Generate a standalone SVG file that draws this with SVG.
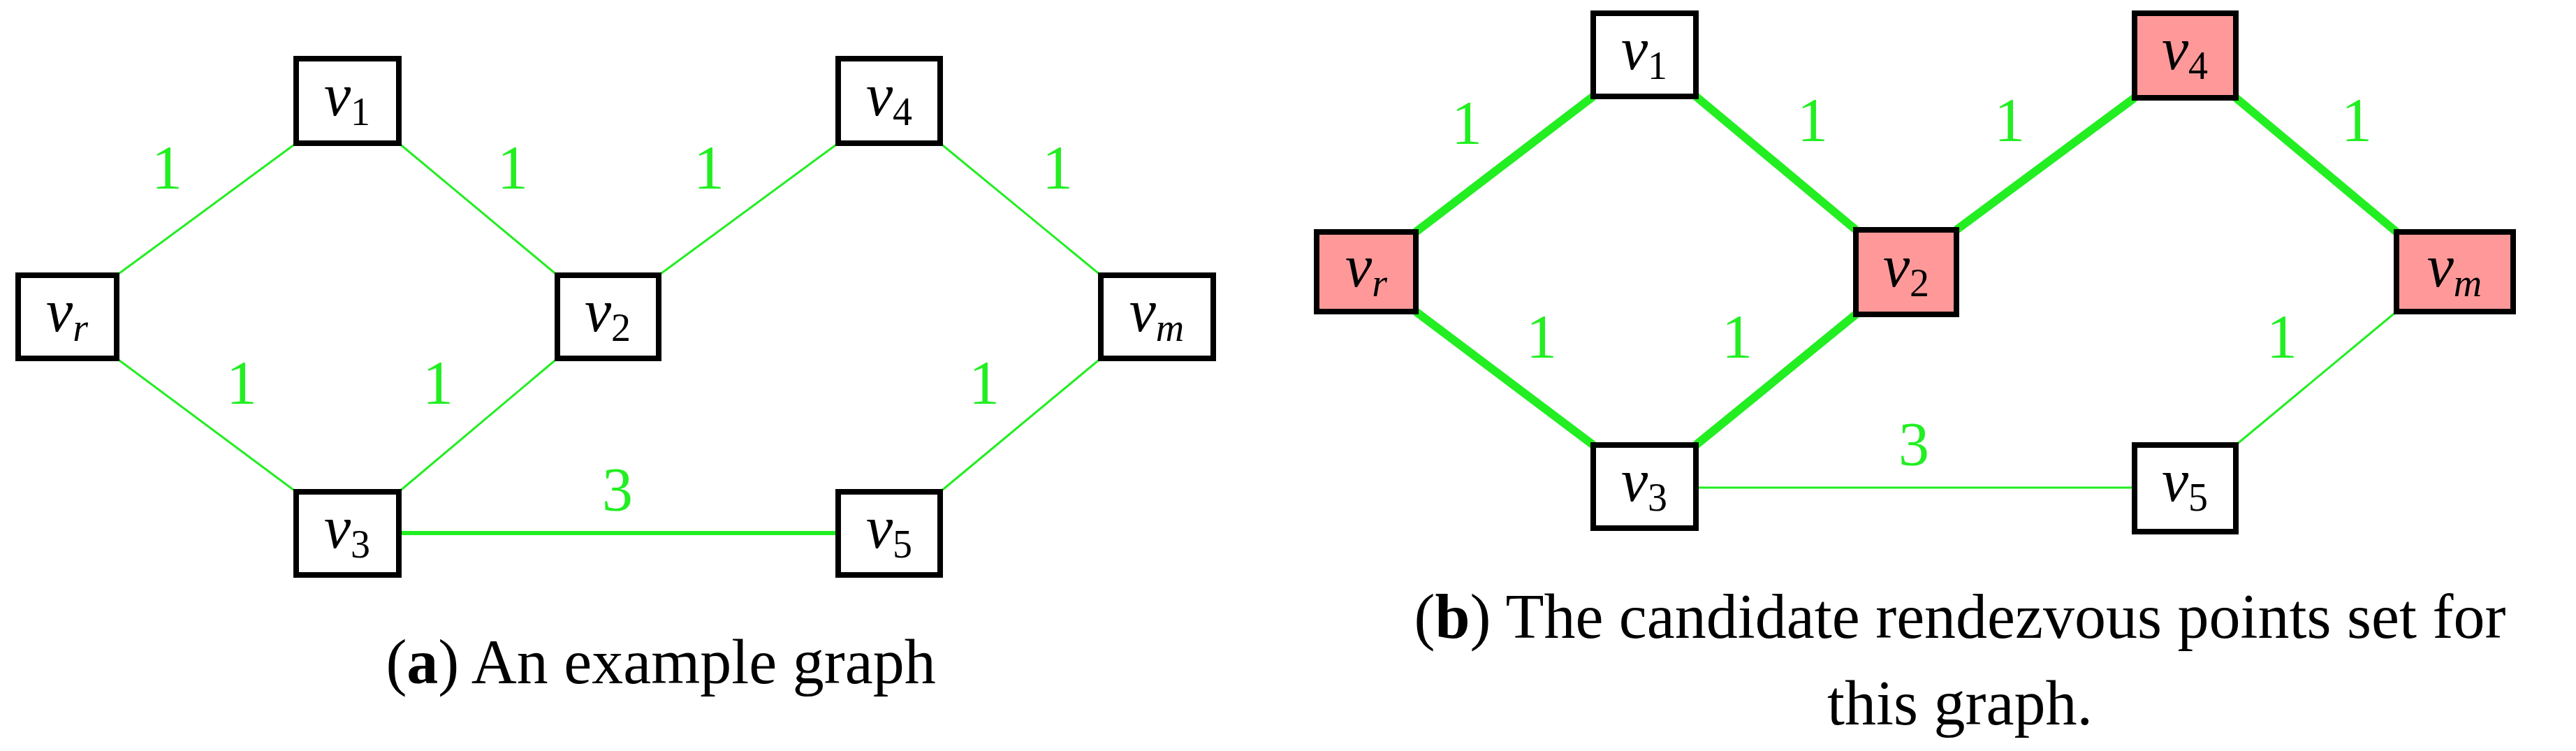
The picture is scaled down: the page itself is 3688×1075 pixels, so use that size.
<svg xmlns="http://www.w3.org/2000/svg" width="3688" height="1075" viewBox="0 0 3688 1075">
<style>
.box{fill:#fff;stroke:#000;stroke-width:8}
.hl{fill:#ff9999}
.nt{font-family:"Liberation Serif",serif;font-style:italic;font-size:86px;fill:#000;text-anchor:middle}
.sub{font-size:56px;font-style:normal}
.si{font-size:56px;font-style:italic}
.e{stroke:#22ee22;stroke-width:3;fill:none}
.t{stroke-width:12}
.w{font-family:"Liberation Serif",serif;font-size:88px;fill:#22ee22;text-anchor:middle}
.cap{font-family:"Liberation Serif",serif;font-size:90px;fill:#000;text-anchor:middle}
</style>
<rect width="3688" height="1075" fill="#fff"/>
<g id="connectors">
<line class="e" x1="167" y1="394" x2="424" y2="205"/>
<line class="e" x1="571" y1="205" x2="798" y2="394"/>
<line class="e" x1="943" y1="394" x2="1200" y2="205"/>
<line class="e" x1="1346" y1="205" x2="1576" y2="394"/>
<line class="e" x1="167" y1="513" x2="424" y2="704"/>
<line class="e" x1="571" y1="704" x2="798" y2="513"/>
<line class="e" x1="1346" y1="704" x2="1576" y2="513"/>
<line class="e" x1="571" y1="763" x2="1200" y2="763" style="stroke-width:6"/>
<line class="e t" x1="2027" y1="332" x2="2281" y2="138"/>
<line class="e t" x1="2428" y1="138" x2="2657" y2="329"/>
<line class="e t" x1="2801" y1="329" x2="3056" y2="140"/>
<line class="e t" x1="3201" y1="140" x2="3431" y2="332"/>
<line class="e t" x1="2027" y1="446" x2="2281" y2="637"/>
<line class="e t" x1="2428" y1="637" x2="2657" y2="450"/>
<line class="e" x1="3201" y1="637" x2="3431" y2="446"/>
<line class="e" x1="2428" y1="698" x2="3056" y2="698"/>
</g>
<g id="weights">
<text class="w" x="239" y="269">1</text><text class="w" x="734" y="269">1</text>
<text class="w" x="1015" y="269">1</text><text class="w" x="1514" y="269">1</text>
<text class="w" x="346" y="577">1</text><text class="w" x="627" y="577">1</text>
<text class="w" x="1409" y="577">1</text><text class="w" x="884" y="730">3</text>
<text class="w" x="2100" y="205">1</text><text class="w" x="2595" y="201">1</text>
<text class="w" x="2877" y="201">1</text><text class="w" x="3374" y="201">1</text>
<text class="w" x="2207" y="511">1</text><text class="w" x="2487" y="511">1</text>
<text class="w" x="3267" y="511">1</text><text class="w" x="2740" y="665">3</text>
</g>
<g id="a-v1"><rect class="box" x="424" y="84" width="147" height="121"/><text class="nt" x="497" y="165">v<tspan class="sub" dy="14">1</tspan></text></g>
<g id="a-vr"><rect class="box" x="26" y="394" width="141" height="119"/><text class="nt" x="96" y="474">v<tspan class="si" dy="14">r</tspan></text></g>
<g id="a-v2"><rect class="box" x="798" y="394" width="145" height="119"/><text class="nt" x="870" y="474">v<tspan class="sub" dy="14">2</tspan></text></g>
<g id="a-v4"><rect class="box" x="1200" y="84" width="146" height="121"/><text class="nt" x="1273" y="165">v<tspan class="sub" dy="14">4</tspan></text></g>
<g id="a-vm"><rect class="box" x="1576" y="394" width="161" height="119"/><text class="nt" x="1656" y="474">v<tspan class="si" dy="14">m</tspan></text></g>
<g id="a-v3"><rect class="box" x="424" y="704" width="147" height="119"/><text class="nt" x="497" y="784">v<tspan class="sub" dy="14">3</tspan></text></g>
<g id="a-v5"><rect class="box" x="1200" y="704" width="146" height="119"/><text class="nt" x="1273" y="784">v<tspan class="sub" dy="14">5</tspan></text></g>
<g id="b-v1"><rect class="box" x="2281" y="19" width="147" height="119"/><text class="nt" x="2354" y="99">v<tspan class="sub" dy="14">1</tspan></text></g>
<g id="b-vr"><rect class="box hl" x="1885" y="332" width="142" height="114"/><text class="nt" x="1956" y="410">v<tspan class="si" dy="14">r</tspan></text></g>
<g id="b-v2"><rect class="box hl" x="2657" y="329" width="144" height="121"/><text class="nt" x="2729" y="410">v<tspan class="sub" dy="14">2</tspan></text></g>
<g id="b-v4"><rect class="box hl" x="3056" y="19" width="145" height="121"/><text class="nt" x="3128" y="99">v<tspan class="sub" dy="14">4</tspan></text></g>
<g id="b-vm"><rect class="box hl" x="3431" y="332" width="167" height="114"/><text class="nt" x="3514" y="410">v<tspan class="si" dy="14">m</tspan></text></g>
<g id="b-v3"><rect class="box" x="2281" y="637" width="147" height="119"/><text class="nt" x="2354" y="717">v<tspan class="sub" dy="14">3</tspan></text></g>
<g id="b-v5"><rect class="box" x="3056" y="637" width="145" height="124"/><text class="nt" x="3128" y="717">v<tspan class="sub" dy="14">5</tspan></text></g>
<g id="captions">
<text class="cap" x="946" y="978">(<tspan font-weight="bold">a</tspan>) An example graph</text>
<text class="cap" x="2806" y="913">(<tspan font-weight="bold">b</tspan>) The candidate rendezvous points set for</text>
<text class="cap" x="2806" y="1037">this graph.</text>
</g>
</svg>
